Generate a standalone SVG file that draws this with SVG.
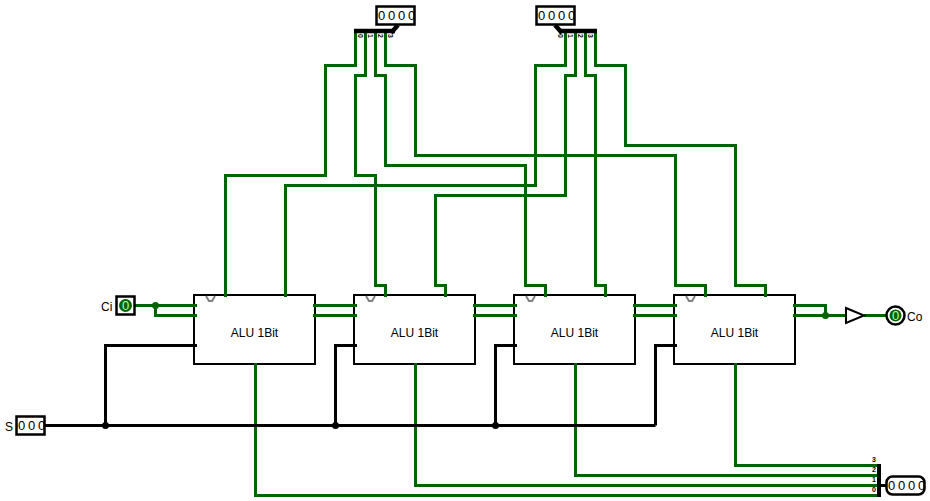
<svg xmlns="http://www.w3.org/2000/svg" width="930" height="501" viewBox="0 0 930 501">
<defs><style>
text{font-family:"Liberation Sans",Arial,sans-serif;fill:#000}
.g{fill:none;stroke:#006400;stroke-width:3}
.b{fill:none;stroke:#000;stroke-width:3}
.box{fill:#fff;stroke:#000;stroke-width:2}
.pin{fill:#fff;stroke:#000;stroke-width:2.500}
.lab{font-size:12px;text-anchor:middle}
.name{font-size:12px}
.dig{font-size:13px;text-anchor:middle}
.tiny{font-size:7px;font-weight:bold;text-anchor:middle}
.notch{fill:none;stroke:#808080;stroke-width:2}
.val{font-size:13px;text-anchor:middle;fill:#b0ffb0}
</style></defs>
<rect width="930" height="501" fill="#fff"/>
<g id="alu1"><rect class="box" x="194" y="295" width="121" height="69"/><path class="notch" d="M206 296L209 301H212L215 296"/><text class="lab" x="254.500" y="337">ALU 1Bit</text></g>
<g id="alu2"><rect class="box" x="354" y="295" width="121" height="69"/><path class="notch" d="M366 296L369 301H372L375 296"/><text class="lab" x="414.500" y="337">ALU 1Bit</text></g>
<g id="alu3"><rect class="box" x="514" y="295" width="121" height="69"/><path class="notch" d="M526 296L529 301H532L535 296"/><text class="lab" x="574.500" y="337">ALU 1Bit</text></g>
<g id="alu4"><rect class="box" x="674" y="295" width="121" height="69"/><path class="notch" d="M686 296L689 301H692L695 296"/><text class="lab" x="734.500" y="337">ALU 1Bit</text></g>
<g id="connectors">
<path class="g" d="M355.500 33V65.500H325.500V175.500H225.500V297"/>
<path class="g" d="M365.500 33V75.500H355.500V175.500H375.500V285.500H385.500V297"/>
<path class="g" d="M375.500 33V75.500H385.500V165.500H525.500V285.500H545.500V297"/>
<path class="g" d="M385.500 33V65.500H415.500V155.500H675.500V285.500H705.500V297"/>
<path class="g" d="M565.500 33V65.500H535.500V185.500H285.500V297"/>
<path class="g" d="M575.500 33V75.500H565.500V195.500H435.500V285.500H445.500V297"/>
<path class="g" d="M585.500 33V75.500H595.500V285.500H605.500V297"/>
<path class="g" d="M595.500 33V65.500H625.500V145.500H735.500V285.500H765.500V297"/>
<path class="g" d="M135 305.500H197M155.500 305.500V315.500H197"/>
<path class="g" d="M313 305.500H357M313 315.500H357M473 305.500H517M473 315.500H517M633 305.500H677M633 315.500H677"/>
<path class="g" d="M793 305.500H825.500V315.500M793 315.500H846M864 315.500H886"/>
<path class="g" d="M255.500 363V495.500H877M415.500 363V485.500H877M575.500 363V475.500H877M735.500 363V465.500H877"/>
<path class="b" d="M45 425.500H655.500M105.500 425.500V345.500H197M335.500 425.500V345.500H357M495.500 425.500V345.500H517M655.500 425.500V345.500H677"/>
<circle cx="155.500" cy="305.500" r="3.500" fill="#006400"/>
<circle cx="825.500" cy="315.500" r="3.500" fill="#006400"/>
<circle cx="105.500" cy="425.500" r="3.500" fill="#000"/>
<circle cx="335.500" cy="425.500" r="3.500" fill="#000"/>
<circle cx="495.500" cy="425.500" r="3.500" fill="#000"/>
</g>
<g id="split-a"><path d="M354 31H395" stroke="#000" stroke-width="4.500"/><path d="M391 33L398 25" stroke="#000" stroke-width="4.500"/>
<text class="tiny" transform="translate(358 36) rotate(90)">0</text><text class="tiny" transform="translate(368 36) rotate(90)">1</text><text class="tiny" transform="translate(378 36) rotate(90)">2</text><text class="tiny" transform="translate(388 36) rotate(90)">3</text></g>
<g id="split-b"><path d="M559 31H597" stroke="#000" stroke-width="4.500"/><path d="M562 33L555 25" stroke="#000" stroke-width="4.500"/>
<text class="tiny" transform="translate(558 36) rotate(90)">0</text><text class="tiny" transform="translate(568 36) rotate(90)">1</text><text class="tiny" transform="translate(578 36) rotate(90)">2</text><text class="tiny" transform="translate(588 36) rotate(90)">3</text></g>
<g id="in-a"><rect class="pin" x="376.500" y="6.500" width="38" height="18"/><text class="dig" x="381.500 391.500 401.500 411.500" y="20">0000</text></g>
<g id="in-b"><rect class="pin" x="536.500" y="6.500" width="38" height="18"/><text class="dig" x="541.500 551.500 561.500 571.500" y="20">0000</text></g>
<g id="in-s"><rect class="pin" x="16.500" y="416.500" width="28" height="18"/><text class="dig" x="21.500 31.500 41.500" y="430">000</text><text class="name" x="5" y="431">S</text></g>
<g id="in-ci"><rect class="pin" x="116.500" y="296.500" width="18" height="18"/><circle cx="125.500" cy="305.500" r="6.500" fill="#006400"/><text class="val" x="125.500" y="310">0</text><text class="name" x="101" y="311">Ci</text></g>
<g id="buf"><path d="M846 308L864 315.500L846 323Z" fill="#fff" stroke="#000" stroke-width="2"/></g>
<g id="out-co"><circle cx="895.500" cy="315.500" r="9" fill="#fff" stroke="#000" stroke-width="2.500"/><circle cx="895.500" cy="315.500" r="6" fill="#006400"/><text class="val" x="895.500" y="320">0</text><text class="name" x="907" y="321">Co</text></g>
<g id="join"><path d="M879 464V497" stroke="#000" stroke-width="4"/><path d="M879 485.500H887" stroke="#000" stroke-width="3"/>
<text class="tiny" x="874" y="462">3</text><text class="tiny" x="874" y="472">2</text><text class="tiny" x="874" y="482">1</text><text class="tiny" x="874" y="492">0</text></g>
<g id="out-r"><rect class="pin" x="886.500" y="476.500" width="38" height="18" rx="6"/><text class="dig" x="891.500 901.500 911.500 921.500" y="490">0000</text></g>
</svg>
